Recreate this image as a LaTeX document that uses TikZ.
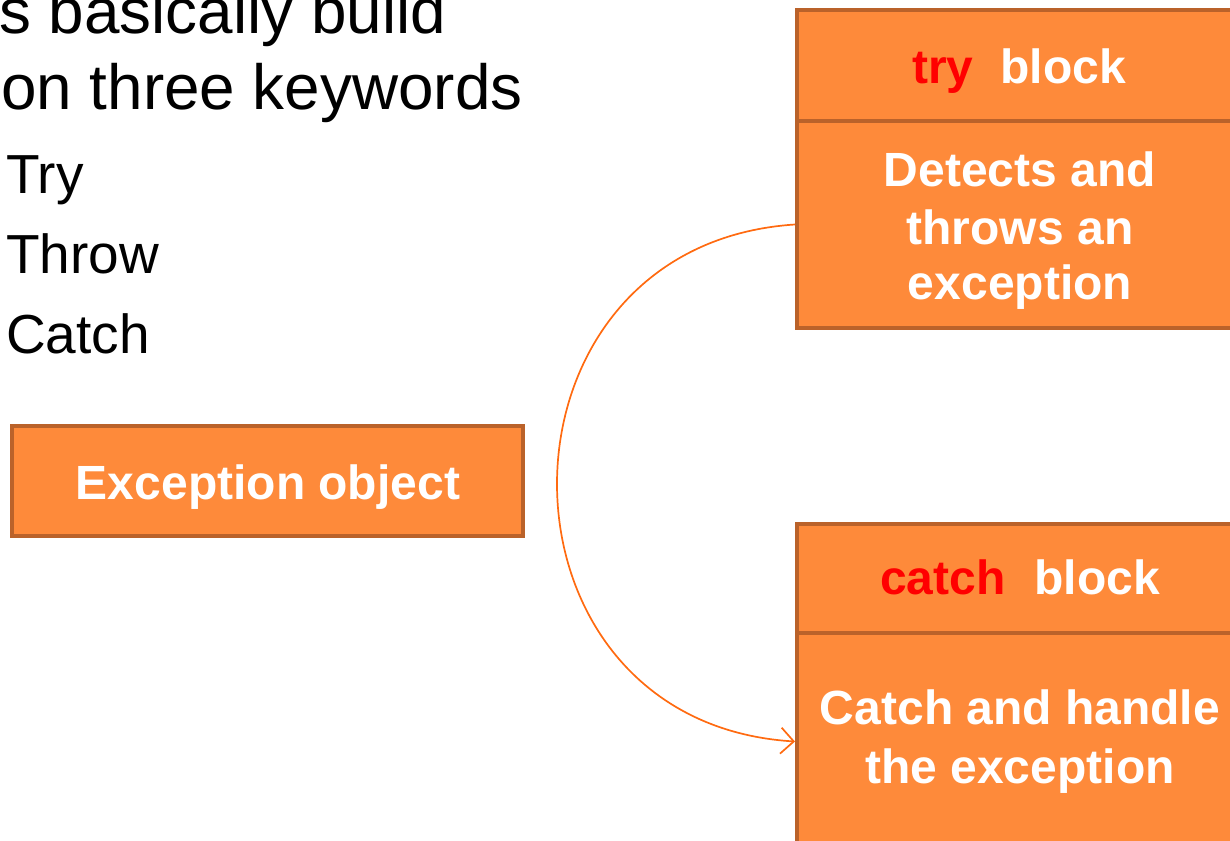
\documentclass[tikz,border=0pt]{standalone}
\usepackage{fontspec}
\setmainfont{Liberation Sans}
\usetikzlibrary{arrows.meta}
\definecolor{boxfill}{HTML}{FE8A3A}
\definecolor{boxline}{HTML}{BA622A}
\definecolor{arrowc}{HTML}{FF6A10}
\definecolor{kwred}{HTML}{FF0000}
\begin{document}
\begin{tikzpicture}[x=1pt,y=-1pt,
  box/.style={draw=boxline, fill=boxfill, line width=4pt, inner sep=0pt},
  boxtext/.style={text=white, font=\bfseries\fontsize{48}{57}\selectfont, anchor=base, inner sep=0pt},
  bigtext/.style={anchor=base west, inner sep=0pt, font=\fontsize{63.8}{75}\selectfont},
  itemtext/.style={anchor=base west, inner sep=0pt, font=\fontsize{55}{65}\selectfont},
  flow/.style={draw=arrowc, line width=1.7pt, -{Straight Barb[length=13pt,width=26pt]}}]
\useasboundingbox (0,0) rectangle (1230,840);
% left text
\node[bigtext] (l1) at (-1,34) {s basically build};
\node[bigtext] (l2) at (1,110) {on three keywords};
\node[itemtext] (b1) at (6,193) {Try};
\node[itemtext] (b2) at (6,273) {Throw};
\node[itemtext] (b3) at (6,353) {Catch};
% exception object
\node[box, minimum width=511pt, minimum height=110pt] (exc) at (267.5,481) {};
\node[boxtext] (exct) at (268,499) {Exception object};
% try block
\node[box, minimum width=446pt, minimum height=111pt] (trytitle) at (1020,65.5) {};
\node[box, minimum width=446pt, minimum height=207pt] (trybody) at (1020,224.5) {};
\node[boxtext] (trytt) at (1019,84) {\textcolor{kwred}{try}\hspace*{27pt}block};
\node[boxtext] (tryb1) at (1020,186) {Detects and};
\node[boxtext] (tryb2) at (1020,244) {throws an};
\node[boxtext] (tryb3) at (1020,299) {exception};
% catch block
\node[box, minimum width=446pt, minimum height=109pt] (catchtitle) at (1020,578.5) {};
\node[box, minimum width=446pt, minimum height=217pt] (catchbody) at (1020,741.5) {};
\node[boxtext] (catchtt) at (1020,594) {\textcolor{kwred}{catch}\hspace*{29pt}block};
\node[boxtext] (catchb1) at (1020,724) {Catch and handle};
\node[boxtext] (catchb2) at (1020,783) {the exception};
% connector
\draw[flow] (trybody.west) .. controls (478,245) and (478,722) .. (catchbody.west);
\end{tikzpicture}
\end{document}
